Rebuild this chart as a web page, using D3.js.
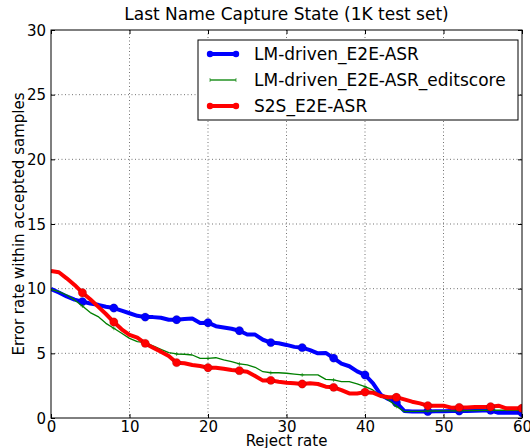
<!DOCTYPE html>
<html lang="en">
<head>
    <meta charset="UTF-8">
    <title>Last Name Capture State</title>
    <script src="https://d3js.org/d3.v7.min.js"></script>
    <style>
        body { margin: 0; background: #fff; }
        text { font-family: "DejaVu Sans", sans-serif; fill: #000; }
        .grid line { stroke: #000; stroke-opacity: 0.55; stroke-dasharray: 1,2.5; }
    </style>
</head>
<body>
    <div id="chart"></div>
    <script>
        // reject rate (%) on the x axis
        const rejectRate = d3.range(0, 61);

        const lmE2E = [9.98, 9.7, 9.4, 9.15, 9.0, 8.85, 8.75, 8.6, 8.5, 8.3,
                       8.1, 7.9, 7.8, 7.8, 7.75, 7.6, 7.6, 7.65, 7.7, 7.35,
                       7.37, 7.1, 7.0, 6.9, 6.75, 6.45, 6.45, 6.05, 5.83, 5.78,
                       5.65, 5.5, 5.44, 5.25, 5.0, 5.03, 4.63, 4.2, 4.0, 3.6,
                       3.33, 2.7, 1.8, 1.45, 1.18, 0.55, 0.5, 0.5, 0.5, 0.52,
                       0.52, 0.54, 0.54, 0.55, 0.56, 0.58, 0.6, 0.4, 0.4, 0.4, 0.4];

        const lmE2EEdit = [9.95, 9.77, 9.51, 9.13, 8.66, 8.15, 7.84, 7.32, 6.94, 6.55,
                           6.16, 5.9, 5.82, 5.57, 5.31, 5.05, 4.95, 4.93, 4.87, 4.61,
                           4.61, 4.66, 4.49, 4.35, 4.18, 4.1, 3.92, 3.58, 3.5, 3.5,
                           3.46, 3.4, 3.33, 3.33, 3.33, 2.99, 2.94, 2.81, 2.81, 2.63,
                           2.42, 2.17, 1.7, 1.39, 0.9, 0.5, 0.52, 0.52, 0.53, 0.54,
                           0.55, 0.55, 0.56, 0.57, 0.58, 0.59, 0.6, 0.6, 0.6, 0.6, 0.6];

        const s2sE2E = [11.37, 11.27, 10.8, 10.29, 9.69, 9.18, 8.61, 8.04, 7.42, 6.86,
                        6.42, 6.21, 5.77, 5.44, 5.13, 4.8, 4.28, 4.23, 4.1, 4.02,
                        3.89, 3.89, 3.81, 3.71, 3.66, 3.58, 3.25, 2.89, 2.91, 2.8,
                        2.73, 2.68, 2.63, 2.68, 2.63, 2.42, 2.37, 2.16, 1.9, 1.9,
                        2.0, 1.96, 1.7, 1.6, 1.6, 1.44, 1.26, 1.13, 0.95, 0.95,
                        0.95, 0.8, 0.82, 0.82, 0.85, 0.85, 0.87, 0.95, 0.75, 0.75, 0.75];

        const xTicks = [0, 10, 20, 30, 40, 50, 60];
        const yTicks = [0, 5, 10, 15, 20, 25, 30];

        const series = [
            {name: "LM-driven_E2E-ASR", values: lmE2E, color: "#0000ff", width: 4, marker: "dot"},
            {name: "LM-driven_E2E-ASR_editscore", values: lmE2EEdit, color: "#008000", width: 1.3, marker: "plus"},
            {name: "S2S_E2E-ASR", values: s2sE2E, color: "#ff0000", width: 4, marker: "dot"}
        ];

        const margin = {top: 30, right: 8, bottom: 30, left: 51},
              width = 530 - margin.left - margin.right,
              height = 448 - margin.top - margin.bottom;

        const svg = d3.select("#chart")
            .append("svg")
            .attr("width", 530)
            .attr("height", 448)
            .append("g")
            .attr("transform", `translate(${margin.left},${margin.top})`);

        const x = d3.scaleLinear().domain([0, 60]).range([0, width]);
        const y = d3.scaleLinear().domain([0, 30]).range([height, 0]);

        // grid
        svg.append("g").attr("class", "grid")
            .selectAll("line").data(xTicks.slice(1, -1)).enter().append("line")
            .attr("x1", d => x(d)).attr("x2", d => x(d))
            .attr("y1", 0).attr("y2", height);
        svg.append("g").attr("class", "grid")
            .selectAll("line").data(yTicks.slice(1, -1)).enter().append("line")
            .attr("x1", 0).attr("x2", width)
            .attr("y1", d => y(d)).attr("y2", d => y(d));

        // axes, ticks pointing inward like matplotlib classic
        const fmt = d3.format("d");
        const xAxis = svg.append("g")
            .attr("transform", `translate(0,${height})`)
            .call(d3.axisBottom(x).tickValues(xTicks).tickFormat(fmt).tickSizeInner(-4).tickSizeOuter(0).tickPadding(3));
        const xTop = svg.append("g")
            .call(d3.axisTop(x).tickValues(xTicks).tickFormat("").tickSizeInner(-4).tickSizeOuter(0));
        const yAxis = svg.append("g")
            .call(d3.axisLeft(y).tickValues(yTicks).tickFormat(fmt).tickSizeInner(-4).tickSizeOuter(0).tickPadding(5));
        const yRight = svg.append("g")
            .attr("transform", `translate(${width},0)`)
            .call(d3.axisRight(y).tickValues(yTicks).tickFormat("").tickSizeInner(-4).tickSizeOuter(0));

        [xAxis, xTop, yAxis, yRight].forEach(a => {
            a.select(".domain").remove();
            a.selectAll("text").style("font-size", "15px").style("font-family", "DejaVu Sans");
        });

        yAxis.selectAll(".tick text").attr("dy", "0.35em");
        xAxis.selectAll(".tick text").attr("dy", "0.71em");

        // the lines
        const line = d3.line()
            .x((d, i) => x(rejectRate[i]))
            .y(d => y(d));

        svg.append("clipPath").attr("id", "plotclip")
            .append("rect").attr("width", width).attr("height", height);

        const plot = svg.append("g").attr("clip-path", "url(#plotclip)");

        series.forEach(s => {
            plot.append("path")
                .datum(s.values)
                .attr("fill", "none")
                .attr("stroke", s.color)
                .attr("stroke-width", s.width)
                .attr("stroke-linejoin", "round")
                .attr("d", line);

            const marks = rejectRate.filter(r => r > 0 && r % 4 === 0);
            if (s.marker === "dot") {
                plot.selectAll(null)
                    .data(marks).enter().append("circle")
                    .attr("cx", r => x(r))
                    .attr("cy", r => y(s.values[rejectRate.indexOf(r)]))
                    .attr("r", 4.2)
                    .attr("fill", s.color)
                    .attr("stroke", "#000")
                    .attr("stroke-opacity", 0.3)
                    .attr("stroke-width", 0.5);
            } else {
                plot.selectAll(null)
                    .data(marks).enter().append("path")
                    .attr("d", r => {
                        const cx = x(r), cy = y(s.values[rejectRate.indexOf(r)]);
                        return `M${cx - 2},${cy}H${cx + 2}M${cx},${cy - 2}V${cy + 2}`;
                    })
                    .attr("stroke", s.color)
                    .attr("stroke-opacity", 0.6)
                    .attr("stroke-width", 1);
            }
        });

        // frame
        svg.append("rect")
            .attr("width", width)
            .attr("height", height)
            .attr("fill", "none")
            .attr("stroke", "#000")
            .attr("stroke-width", 1);

        // title and axis labels
        svg.append("text")
            .attr("x", width / 2)
            .attr("y", -10)
            .attr("text-anchor", "middle")
            .style("font-size", "17px")
            .text("Last Name Capture State (1K test set)");

        svg.append("text")
            .attr("x", width / 2)
            .attr("y", height + 28)
            .attr("text-anchor", "middle")
            .style("font-size", "15px")
            .text("Reject rate");

        svg.append("text")
            .attr("transform", "rotate(-90)")
            .attr("x", -height / 2)
            .attr("y", -margin.left + 24)
            .attr("text-anchor", "middle")
            .style("font-size", "15px")
            .text("Error rate within accepted samples");

        // legend
        const legend = svg.append("g")
            .attr("transform", `translate(147,10)`);

        legend.append("rect")
            .attr("width", 320)
            .attr("height", 80)
            .attr("fill", "#fff")
            .attr("stroke", "#000")
            .attr("stroke-width", 1);

        series.forEach((s, i) => {
            const row = legend.append("g").attr("transform", `translate(0,${14 + i * 26})`);
            row.append("line")
                .attr("x1", 12).attr("x2", 38)
                .attr("stroke", s.color)
                .attr("stroke-width", s.width);
            if (s.marker === "dot") {
                row.selectAll(null).data([12, 38]).enter().append("circle")
                    .attr("cx", d => d).attr("r", 3.2).attr("fill", s.color);
            } else {
                row.selectAll(null).data([12, 38]).enter().append("line")
                    .attr("x1", d => d).attr("x2", d => d)
                    .attr("y1", -2).attr("y2", 2)
                    .attr("stroke", s.color).attr("stroke-opacity", 0.6).attr("stroke-width", 1);
            }
            row.append("text")
                .attr("x", 56)
                .attr("dy", "0.35em")
                .style("font-size", "17px")
                .text(s.name);
        });
    </script>
</body>
</html>
